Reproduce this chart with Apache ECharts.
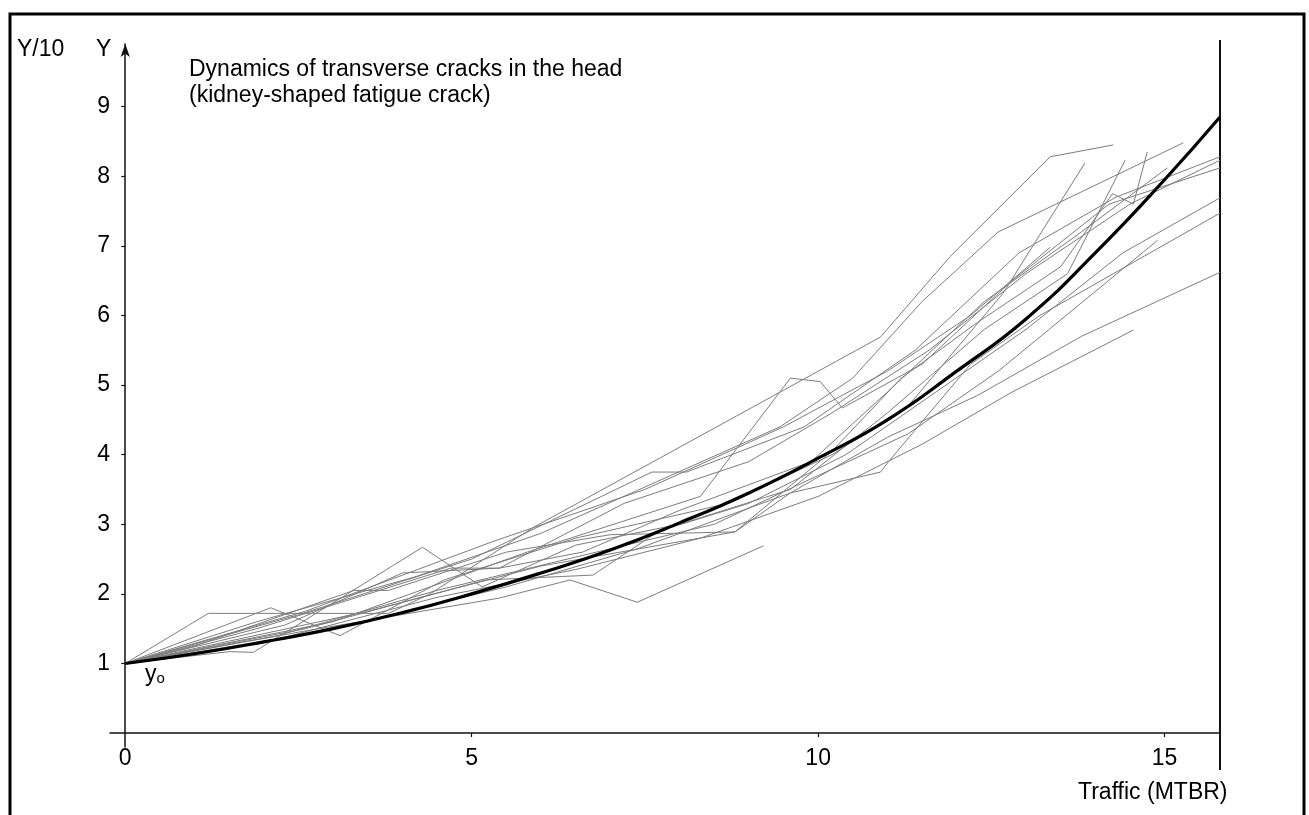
<!DOCTYPE html>
<html>
<head>
<meta charset="utf-8">
<script src="https://cdn.jsdelivr.net/npm/echarts@6/dist/echarts.min.js"></script>
<style>html,body{margin:0;padding:0;background:#fff}#c{width:1309px;height:815px}</style>
</head>
<body>
<div id="c"></div>
<script>
// ---- data ----
const xTickLabels = [0, 5, 10, 15];
const yTickLabels = [1, 2, 3, 4, 5, 6, 7, 8, 9];
const meanCurve = [[0,1],[1,1.14],[2,1.31],[3,1.5],[4,1.73],[5,2.0],[6,2.3],[7,2.63],[8,3.02],[9,3.45],[10,3.95],[11,4.5],[12,5.2],[13,5.95],[14,6.9],[15,7.95],[15.8,8.85]];
const crackA = [[0,1],[1.2,1.72],[3.8,1.72],[4.4,2.0],[5.9,2.96],[10.9,5.69],[11.9,6.84],[13.35,8.28],[14.26,8.45]];
const crackB = [[0,1],[1.9,1.6],[4.2,2.25],[6.0,2.87],[9.45,4.4],[10.5,5.1],[11.5,6.2],[12.6,7.2],[15.27,8.48]];
const crackC = [[0,1],[2.1,1.8],[3.1,1.4],[4.6,2.2],[6.5,2.8],[8.7,3.3],[10.2,4.0],[11.3,4.7],[12.67,6.32],[13.85,8.19]];
const crackD = [[0,1],[1.5,1.17],[1.85,1.16],[4.29,2.67],[5.15,2.1],[6.5,2.7],[8.0,3.0],[9.6,3.5],[11.0,4.6],[12.4,5.8],[13.6,6.6],[14.43,8.23]];
const crackE = [[0,1],[1.0,1.25],[3.3,2.05],[3.8,2.05],[5.5,2.6],[7.0,2.85],[8.8,2.89],[10.2,4.05],[11.2,5.1],[12.3,5.9],[13.5,6.7],[14.25,7.75],[14.55,7.6],[14.75,8.35]];
const crackF = [[0,1],[2.3,1.55],[4.0,2.3],[5.4,2.37],[6.6,2.6],[8.0,3.2],[9.9,3.9],[11.0,4.9],[12.4,6.2],[13.8,7.2],[15.04,8.12]];
const crackG = [[0,1],[2.5,1.7],[5.0,2.5],[7.6,3.75],[8.1,3.75],[9.8,4.4],[11.4,5.5],[12.9,6.9],[14.3,7.7],[15.8,8.28]];
const crackH = [[0,1],[1.9,1.5],[4.7,2.37],[5.4,2.37],[7.2,3.3],[9.0,3.9],[10.2,4.6],[11.6,5.5],[13.0,6.6],[14.5,7.6],[15.8,8.23]];
const crackI = [[0,1],[3.0,1.6],[5.8,2.6],[8.3,3.4],[9.6,5.1],[10.03,5.05],[10.35,4.67],[11.5,5.3],[12.8,6.5],[14.2,7.6],[15.8,8.12]];
const crackJ = [[0,1],[2.6,1.5],[5.2,2.2],[6.75,2.27],[7.7,2.9],[9.0,3.3],[10.4,4.0],[11.7,4.9],[13.0,5.8],[14.4,6.9],[15.8,7.69]];
const crackK = [[0,1],[3.5,1.75],[6.0,2.4],[8.8,2.89],[9.6,3.45],[10.9,3.75],[11.0,3.88],[12.2,5.3],[13.2,6.0],[15.8,7.47]];
const crackL = [[0,1],[2.8,1.45],[5.5,2.1],[7.4,2.65],[9.6,3.45],[11.0,4.25],[12.3,4.85],[13.8,5.7],[15.8,6.62]];
const crackM = [[0,1],[2.2,1.4],[4.5,2.05],[6.8,2.6],[8.5,3.0],[10.0,3.7],[11.3,4.3],[12.6,5.2],[14.9,7.08]];
const crackN = [[0,1],[2.0,1.3],[4.5,1.95],[6.5,2.35],[8.3,2.8],[10.0,3.4],[11.5,4.15],[12.8,4.9],[14.55,5.79]];
const crackO = [[0,1],[2.6,1.75],[5.3,2.75],[7.5,3.5],[9.5,4.4],[11.0,5.2],[12.2,6.0],[13.35,6.98]];
const crackP = [[0,1],[2.5,1.45],[5.4,1.94],[6.42,2.2],[7.39,1.88],[9.21,2.69]];

const cracks = [crackA, crackB, crackC, crackD, crackE, crackF, crackG, crackH, crackI, crackJ, crackK, crackL, crackM, crackN, crackO, crackP];

const FONT = '"Liberation Sans", Arial, Helvetica, sans-serif';
const FS = 23;
const chart = echarts.init(document.getElementById('c'), null, {renderer: 'canvas'});

const series = cracks.map(d => ({
  type: 'line', data: d, showSymbol: false, silent: true,
  lineStyle: {color: '#7d7d7d', width: 1}, z: 2
}));
series.push({
  type: 'line', data: meanCurve, smooth: true, showSymbol: false, silent: true,
  lineStyle: {color: '#000', width: 3.2}, z: 5
});

chart.setOption({
  animation: false,
  backgroundColor: '#fff',
  grid: {left: 110, right: 89, top: 44, bottom: 68},
  xAxis: {
    type: 'value', min: -0.22, max: 15.8,
    splitLine: {show: false},
    axisLine: {show: true, onZero: true, lineStyle: {color: '#111', width: 1.5}},
    axisTick: {show: true, customValues: [5, 10, 15], length: 4, inside: false, lineStyle: {color: '#111', width: 1.2}},
    axisLabel: {customValues: xTickLabels, margin: 0, color: '#000', fontSize: FS, fontFamily: FONT}
  },
  yAxis: {
    type: 'value', min: -0.2, max: 9.9,
    splitLine: {show: false},
    axisLine: {show: true, onZero: true, symbol: ['none', 'arrow'], symbolSize: [7, 13], lineStyle: {color: '#111', width: 1.5}},
    axisTick: {show: true, customValues: yTickLabels, length: 4, lineStyle: {color: '#111', width: 1.2}},
    axisLabel: {customValues: yTickLabels, margin: 0, color: '#000', fontSize: FS, fontFamily: FONT}
  },
  series: series,
  graphic: [
    {type: 'rect', shape: {x: 10, y: 14, width: 1294, height: 900}, style: {fill: 'none', stroke: '#000', lineWidth: 3}, silent: true},
    {type: 'line', shape: {x1: 1220, y1: 40, x2: 1220, y2: 770}, style: {stroke: '#111', lineWidth: 2}, silent: true},
    {type: 'text', left: 17, top: 38, style: {text: 'Y/10', font: FS + 'px ' + FONT, fill: '#000'}},
    {type: 'text', left: 96, top: 38, style: {text: 'Y', font: FS + 'px ' + FONT, fill: '#000'}},
    {type: 'text', left: 189, top: 57, style: {text: 'Dynamics of transverse cracks in the head\n(kidney-shaped fatigue crack)', font: FS + 'px ' + FONT, fill: '#000', lineHeight: 26}},
    {type: 'text', left: 1078, top: 781, style: {text: 'Traffic (MTBR)', font: FS + 'px ' + FONT, fill: '#000'}},
    {type: 'text', left: 145, top: 663, style: {text: '{a|y}{b|o}', rich: {a: {fontSize: 23, fontFamily: FONT, color: '#000'}, b: {fontSize: 15, fontFamily: FONT, color: '#000', padding: [9, 0, 0, 0]}}}}
  ]
});
</script>
</body>
</html>
